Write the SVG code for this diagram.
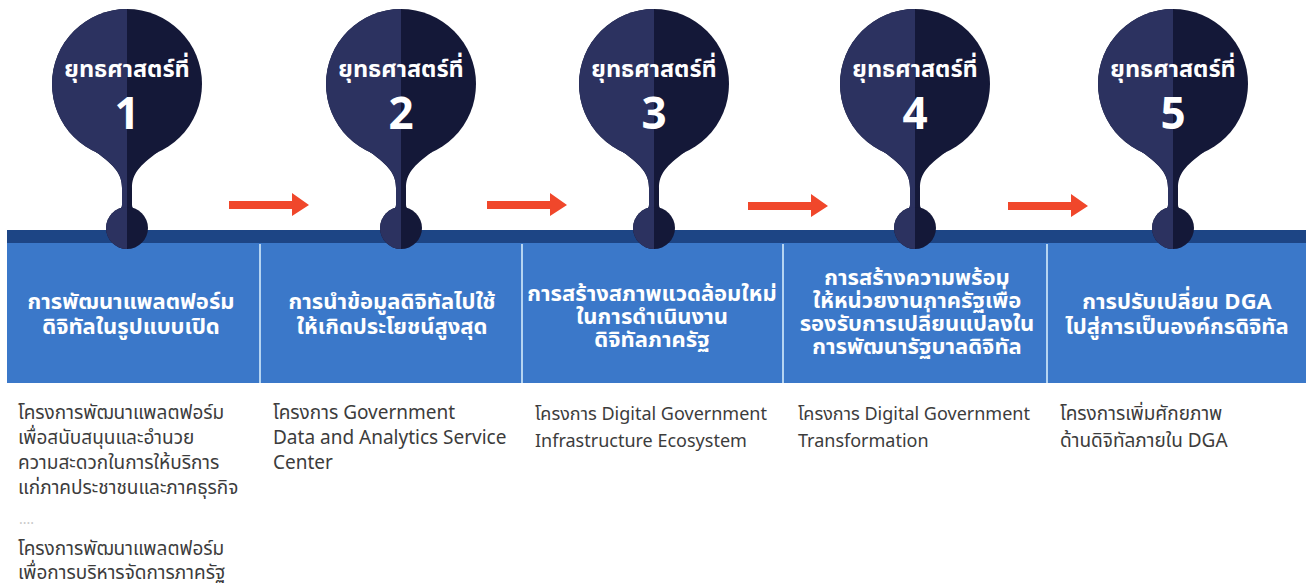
<svg xmlns="http://www.w3.org/2000/svg" xmlns:xlink="http://www.w3.org/1999/xlink" width="1306" height="588" viewBox="0 0 1306 588">
<style>
.hd{font-family:"Noto Sans Thai","Noto Sans Thai UI","Noto Sans","DejaVu Sans",sans-serif;font-weight:700;fill:#ffffff;text-anchor:middle;font-size:23.5px}
.num{font-family:"Noto Sans","Liberation Sans",sans-serif;font-weight:700;fill:#ffffff;text-anchor:middle;font-size:44px}
.bt{font-family:"Noto Sans Thai","Noto Sans Thai UI","Noto Sans","DejaVu Sans",sans-serif;font-weight:700;fill:#ffffff;text-anchor:middle;font-size:22px}
.dt{font-family:"Noto Sans Thai","Noto Sans Thai UI","Noto Sans","DejaVu Sans",sans-serif;font-weight:400;fill:#3c3c3c;font-size:19px}
.dc{font-size:18px}
.dots{font-family:"Noto Sans","DejaVu Sans",sans-serif;fill:#c8c8c8;font-size:14px}
.arrow{fill:#f0472b}
.div{stroke:#b5d4f1;stroke-width:2}
</style>
<defs>
<clipPath id="leftHalf"><rect x="-100" y="0" width="100" height="260"/></clipPath>
<g id="pinBody">
<circle cx="0" cy="84" r="75"/>
<path d="M -31,152 C -12,166 -5,174 -5,188 L -5,205 C -5,208 -7,209 -9,210 L 9,210 C 7,209 5,208 5,205 L 5,188 C 5,174 12,166 31,152 Z"/>
<circle cx="0" cy="228" r="21"/>
</g>
<g id="pin">
<use xlink:href="#pinBody" fill="#141838"/>
<use xlink:href="#pinBody" fill="#2c3260" clip-path="url(#leftHalf)"/>
</g>
</defs>

<g id="band">
<rect x="7" y="230" width="1299" height="14" fill="#1d4585"/>
<rect x="7" y="243" width="1299" height="140" fill="#3b78c9"/>
<line class="div" x1="260" y1="244" x2="260" y2="383"/>
<line class="div" x1="522" y1="244" x2="522" y2="383"/>
<line class="div" x1="783" y1="244" x2="783" y2="383"/>
<line class="div" x1="1047" y1="244" x2="1047" y2="383"/>
</g>

<g id="connectors">
<path class="arrow" d="M229,201 H292 V193 L309,205 L292,216 V209 H229 Z"/>
<path class="arrow" d="M487,201 H550 V193 L567,205 L550,216 V209 H487 Z"/>
<path class="arrow" d="M748,202 H811 V194 L828,206 L811,217 V210 H748 Z"/>
<path class="arrow" d="M1008,202 H1071 V194 L1088,206 L1071,217 V210 H1008 Z"/>
</g>

<g id="s1">
<use xlink:href="#pin" x="127" y="0"/>
<text class="hd" x="127" y="77">ยุทธศาสตร์ที่</text>
<text class="num" x="127" y="129">1</text>
<text class="bt" x="131" y="309">การพัฒนาแพลตฟอร์ม</text>
<text class="bt" x="131" y="334">ดิจิทัลในรูปแบบเปิด</text>
<text class="dt" x="18" y="419">โครงการพัฒนาแพลตฟอร์ม</text>
<text class="dt" x="18" y="444">เพื่อสนับสนุนและอำนวย</text>
<text class="dt" x="18" y="469">ความสะดวกในการให้บริการ</text>
<text class="dt" x="18" y="494">แก่ภาคประชาชนและภาคธุรกิจ</text>
<text class="dots" x="19" y="524">....</text>
<text class="dt" x="18" y="555">โครงการพัฒนาแพลตฟอร์ม</text>
<text class="dt" x="18" y="579">เพื่อการบริหารจัดการภาครัฐ</text>
</g>

<g id="s2">
<use xlink:href="#pin" x="401" y="0"/>
<text class="hd" x="401" y="77">ยุทธศาสตร์ที่</text>
<text class="num" x="401" y="129">2</text>
<text class="bt" x="392" y="309">การนำข้อมูลดิจิทัลไปใช้</text>
<text class="bt" x="392" y="334">ให้เกิดประโยชน์สูงสุด</text>
<text class="dt" x="273" y="419">โครงการ Government</text>
<text class="dt" x="273" y="444">Data and Analytics Service</text>
<text class="dt" x="273" y="469">Center</text>
</g>

<g id="s3">
<use xlink:href="#pin" x="654" y="0"/>
<text class="hd" x="654" y="77">ยุทธศาสตร์ที่</text>
<text class="num" x="654" y="129">3</text>
<text class="bt" x="652" y="301">การสร้างสภาพแวดล้อมใหม่</text>
<text class="bt" x="652" y="324">ในการดำเนินงาน</text>
<text class="bt" x="652" y="347">ดิจิทัลภาครัฐ</text>
<text class="dt dc" x="535" y="420">โครงการ Digital Government</text>
<text class="dt dc" x="535" y="447">Infrastructure Ecosystem</text>
</g>

<g id="s4">
<use xlink:href="#pin" x="915" y="0"/>
<text class="hd" x="915" y="77">ยุทธศาสตร์ที่</text>
<text class="num" x="915" y="129">4</text>
<text class="bt" x="917" y="285">การสร้างความพร้อม</text>
<text class="bt" x="917" y="308">ให้หน่วยงานภาครัฐเพื่อ</text>
<text class="bt" x="917" y="331">รองรับการเปลี่ยนแปลงใน</text>
<text class="bt" x="917" y="354">การพัฒนารัฐบาลดิจิทัล</text>
<text class="dt dc" x="798" y="420">โครงการ Digital Government</text>
<text class="dt dc" x="798" y="447">Transformation</text>
</g>

<g id="s5">
<use xlink:href="#pin" x="1173" y="0"/>
<text class="hd" x="1173" y="77">ยุทธศาสตร์ที่</text>
<text class="num" x="1173" y="129">5</text>
<text class="bt" x="1177" y="309">การปรับเปลี่ยน DGA</text>
<text class="bt" x="1177" y="334">ไปสู่การเป็นองค์กรดิจิทัล</text>
<text class="dt" x="1060" y="420">โครงการเพิ่มศักยภาพ</text>
<text class="dt" x="1060" y="447">ด้านดิจิทัลภายใน DGA</text>
</g>
</svg>
